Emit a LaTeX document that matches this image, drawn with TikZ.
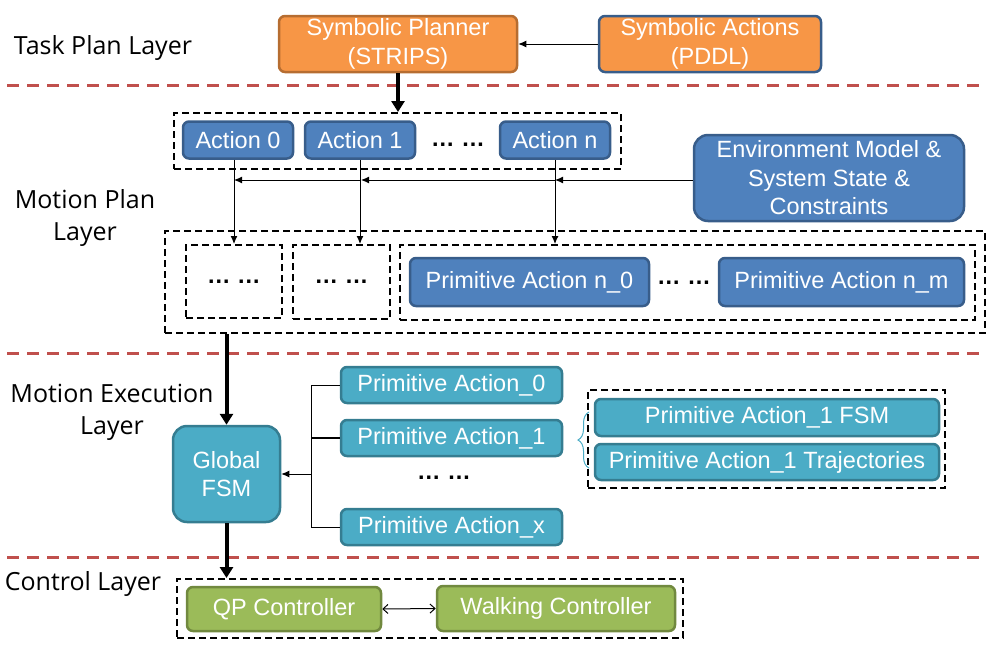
\documentclass[tikz,border=0pt]{standalone}
\usepackage{fontspec}
\setmainfont{Liberation Sans}
\newfontfamily\layerfont{Open Sans}
\usetikzlibrary{arrows.meta,decorations.pathreplacing}
\definecolor{sepred}{HTML}{C0504D}
\definecolor{orfill}{HTML}{F79646}
\definecolor{ordraw}{HTML}{B66D31}
\definecolor{blfill}{HTML}{4F81BD}
\definecolor{bldraw}{HTML}{385D8A}
\definecolor{tlfill}{HTML}{4BACC6}
\definecolor{tldraw}{HTML}{357D91}
\definecolor{grfill}{HTML}{9BBB59}
\definecolor{grdraw}{HTML}{71893F}
\begin{document}
\begin{tikzpicture}[x=1pt,y=-1pt,
box/.style={draw,line width=2.5pt,rounded corners=6pt,text=white,align=center,inner sep=0pt,font=\fontsize{23.5}{28.5}\selectfont},
orbox/.style={box,fill=orfill,draw=ordraw},
blbox/.style={box,fill=blfill,draw=bldraw},
tlbox/.style={box,fill=tlfill,draw=tldraw},
grbox/.style={box,fill=grfill,draw=grdraw},
dbox/.style={draw,line width=2pt,dash pattern=on 7pt off 4pt,inner sep=0pt},
dots/.style={font=\fontsize{23.5}{28.5}\selectfont\bfseries},
layer/.style={align=center,font=\layerfont\fontsize{25}{32}\selectfont},
thin/.style={line width=1pt,-{Latex[length=8pt,width=7pt]}},
fat/.style={line width=4pt,-{Triangle[length=11pt,width=13pt]}}]
\useasboundingbox (0,0) rectangle (992,651);
\foreach \y in {85,353,557}
  \draw[sepred,line width=3pt,dash pattern=on 12pt off 8pt] (7,\y) -- (985,\y);
\node[layer] (l1) at (103,48) {Task Plan Layer};
\node[layer] (l2) at (85,218) {Motion Plan\\Layer};
\node[layer] (l3) at (112,412) {Motion Execution\\Layer};
\node[layer] (l4) at (83,584) {Control Layer};
\node[orbox,minimum width=238,minimum height=56] (sp) at (398,44) {Symbolic Planner\\(STRIPS)};
\node[orbox,draw=bldraw,minimum width=222,minimum height=56] (sa) at (710,44) {Symbolic Actions\\(PDDL)};
\path[draw,thin] (sa) -- (sp);
\node[dbox,minimum width=447,minimum height=56] (ag) at (397.5,141) {};
\path[draw,fat] (sp) -- (sp.south |- ag.north);
\node[blbox,minimum width=110,minimum height=37] (a0) at (238,140) {Action 0};
\node[blbox,minimum width=110,minimum height=37] (a1) at (360,140) {Action 1};
\node[dots] (d0) at (458,145) {… …};
\node[blbox,minimum width=110,minimum height=37] (an) at (555,140) {Action n};
\node[blbox,rounded corners=14pt,minimum width=270,minimum height=86] (env) at (829,178) {Environment Model \&\\System State \&\\Constraints};
\node[dbox,minimum width=820,minimum height=102] (mp) at (575,282) {};
\node[dbox,minimum width=96,minimum height=73] (p0) at (234,281.5) {};
\node[dots] at (p0) {… …};
\node[dbox,minimum width=97,minimum height=74] (p1) at (341.5,282) {};
\node[dots] at (p1) {… …};
\node[dbox,minimum width=575,minimum height=75] (pn) at (687.5,282.5) {};
\node[blbox,minimum width=239,minimum height=48] (pn0) at (529.5,282) {Primitive Action n\_0};
\node[dots] (d1) at (684,283) {… …};
\node[blbox,minimum width=245,minimum height=48] (pnm) at (841.5,282) {Primitive Action n\_m};
\coordinate (h0) at (234,180);
\coordinate (h1) at (361,180);
\coordinate (hn) at (555,180);
\path[draw,thin] (env.west |- hn) -- (hn);
\path[draw,thin] (hn) -- (h1);
\path[draw,thin] (h1) -- (h0);
\path[draw,thin] (a0.south -| p0) -- (p0.north);
\path[draw,thin] (a1.south) -- (a1.south |- p1.north);
\path[draw,thin] (an.south) -- (an.south |- pn.north);
\node[tlbox,rounded corners=14pt,minimum width=107,minimum height=96] (gf) at (226.5,474) {Global\\FSM};
\path[draw,fat] (gf.north |- mp.south) -- (gf.north);
\node[tlbox,minimum width=221,minimum height=36] (pa0) at (451.5,385) {Primitive Action\_0};
\node[tlbox,minimum width=221,minimum height=36] (pa1) at (451.5,438) {Primitive Action\_1};
\node[dots] (d2) at (444,478) {… …};
\node[tlbox,minimum width=221,minimum height=36] (pax) at (451.5,527) {Primitive Action\_x};
\coordinate (bt) at (311,385);
\coordinate (bb) at (311,527);
\path[draw,line width=1pt] (pa0.west) -- (bt) -- (bb) -- (pax.west);
\path[draw,line width=1.5pt] (pa1.west) -- (pa1.west -| bt);
\path[draw,thin] (gf.east -| bt) -- (gf.east);
\node[dbox,minimum width=357,minimum height=98] (fb) at (766.5,439) {};
\node[tlbox,minimum width=344,minimum height=37] (pf) at (767,417.5) {Primitive Action\_1 FSM};
\node[tlbox,minimum width=344,minimum height=36] (pt) at (767,462) {Primitive Action\_1 Trajectories};
\draw[tlfill,line width=1pt,decorate,decoration={brace,amplitude=11pt}] (589,468) -- (589,412);
\node[dbox,minimum width=506,minimum height=59] (cb) at (430,608.5) {};
\path[draw,fat] (gf.south) -- (gf.south |- cb.north);
\node[grbox,minimum width=194,minimum height=44] (qp) at (284,609) {QP Controller};
\node[grbox,minimum width=238,minimum height=45] (wk) at (556,608.5) {Walking Controller};
\path[draw,line width=1pt,{Straight Barb[length=5pt,width=9pt]}-{Straight Barb[length=5pt,width=9pt]}] (qp.east) -- (wk.west);
\end{tikzpicture}
\end{document}
